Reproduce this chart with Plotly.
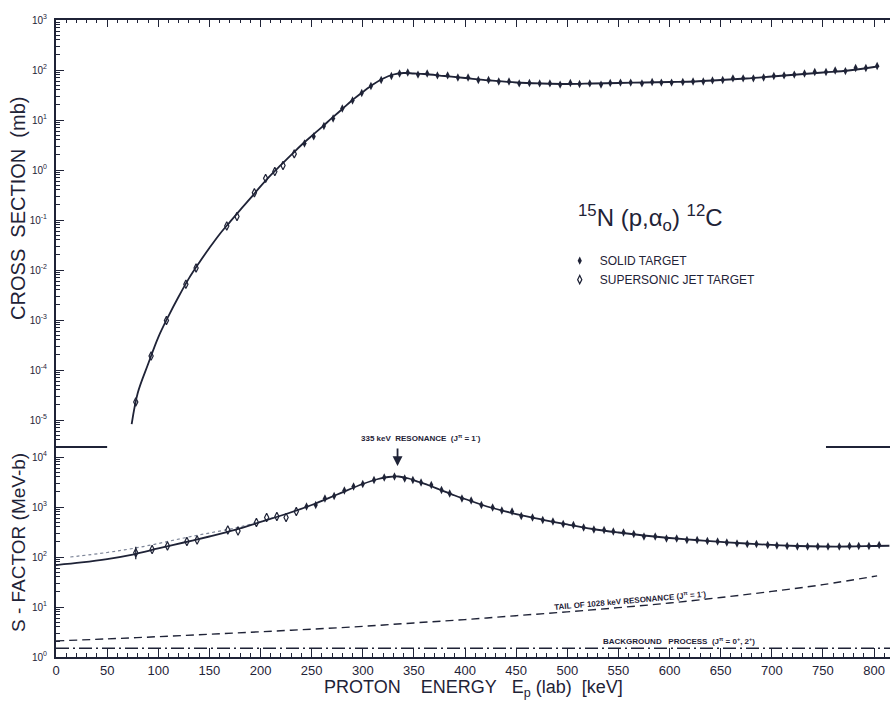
import plotly.graph_objects as go

INK = "#1f2337"
FONT = "Liberation Sans"

# ---------------- cross section, 15N(p,a0)12C ----------------
# supersonic jet target (low energies)
e_jet_cs = [78, 93, 108, 127, 137, 167, 177, 194, 205, 214, 222, 233]
cs_jet = [2.3e-5, 1.9e-4, 9.8e-4, 5.2e-3, 1.1e-2, 7.6e-2, 0.117, 0.35, 0.68, 0.93, 1.23, 2.1]

# solid target
e_solid_cs = [243, 252, 262, 271, 280, 290, 299, 308, 318, 328,
              336, 344, 354, 363, 373, 383, 393, 403, 413, 423,
              433, 443, 453, 463, 473, 483, 493, 503, 512, 522,
              533, 542, 552, 562, 573, 583, 592, 602, 613, 623,
              633, 642, 652, 662, 672, 682, 692, 702, 712, 722,
              732, 742, 753, 762, 772, 782, 792, 803]
cs_solid = [3.4, 4.7, 7.6, 10.7, 17, 24.5, 34.7, 47.9, 63, 76,
            85, 89, 81, 85, 78, 78, 71, 71, 63, 63,
            59, 59, 54, 55, 54, 54, 51, 55, 52.5, 54,
            51, 55, 56, 56, 54, 57.5, 56, 56, 57.5, 59,
            59, 62, 63, 68, 68, 68, 71, 76, 78, 81,
            85, 91, 91, 98, 95, 110, 110, 120]

# fitted cross section curve
e_fit_cs = [74, 80, 90, 100, 110, 120, 130, 140, 150, 160, 170, 180, 190, 200,
            210, 220, 230, 240, 250, 260, 270, 280, 290, 300, 310, 320, 330, 340,
            350, 360, 380, 400, 425, 450, 475, 500, 525, 550, 575, 600, 625, 650,
            675, 700, 725, 750, 775, 800, 805]
cs_fit = [8.3e-6, 3.5e-5, 1.3e-4, 4.5e-4, 1.2e-3, 2.95e-3, 6.8e-3, 1.4e-2, 2.75e-2,
          5.2e-2, 9.1e-2, 0.158, 0.27, 0.47, 0.79, 1.26, 2.0, 3.16, 4.8, 7.2, 11.0,
          16.6, 25.1, 36.3, 51.3, 67.6, 81.3, 87.1, 85.1, 83.2, 75.9, 69.2, 61.7,
          56.2, 53.7, 52.5, 53.7, 55.0, 56.2, 57.5, 58.9, 63.1, 67.6, 74.1, 81.3,
          89.1, 97.7, 114.8, 120]

# ---------------- astrophysical S-factor ----------------
e_jet_s = [78, 94, 109, 128, 138, 168, 178, 196, 206, 216, 225, 235]
s_jet = [122, 141, 166, 204, 219, 347, 330, 490, 617, 646, 617, 813]
s_jet_up = [38, 0, 0, 0, 0, 0, 0, 0, 0, 0, 0, 0]
s_jet_dn = [32, 0, 0, 0, 0, 0, 0, 0, 0, 0, 0, 0]

e_solid_s = [245, 254, 263, 272, 282, 291, 300, 311, 321, 331,
             341, 349, 357, 367, 377, 385, 397, 406, 416, 427,
             436, 446, 455, 466, 476, 486, 496, 506, 516, 526,
             536, 545, 555, 565, 575, 586, 597, 607, 617, 627,
             637, 647, 656, 666, 676, 685, 696, 705, 715, 725,
             735, 745, 755, 766, 776, 785, 795, 805]
s_solid = [1023, 1096, 1479, 1660, 2138, 2570, 2884, 3467, 3890, 4074,
           3715, 3467, 3090, 2754, 2188, 1862, 1479, 1349, 1096, 977,
           851, 813, 661, 617, 550, 513, 457, 437, 389, 355,
           347, 324, 309, 288, 257, 257, 234, 234, 219, 219,
           209, 204, 195, 186, 182, 182, 174, 170, 166, 162,
           162, 162, 162, 162, 166, 166, 166, 174]

# R-matrix fit of the S-factor
e_fit_s = [0, 25, 50, 75, 100, 125, 150, 175, 200, 225, 250, 275, 300, 315, 325,
           335, 345, 355, 365, 375, 390, 400, 425, 450, 475, 500, 525, 550, 575,
           600, 625, 650, 675, 700, 725, 750, 775, 800, 815]
s_fit = [69, 78, 91, 112, 148, 195, 257, 347, 501, 724, 1096, 1778, 2884, 3631,
         3981, 4074, 3715, 3162, 2692, 2239, 1698, 1445, 977, 724, 562, 447, 363,
         309, 269, 240, 219, 200, 186, 174, 166, 162, 162, 166, 168]

# alternative low-energy extrapolation (dotted)
e_alt_s = [14, 50, 75, 100, 125, 150, 175, 200, 215]
s_alt = [100, 123, 148, 186, 240, 302, 380, 513, 631]

# tail of the 1028 keV resonance
e_tail = [0, 50, 100, 150, 200, 250, 300, 350, 400, 450, 500, 550, 600, 650, 700, 750, 803]
s_tail = [2.1, 2.3, 2.55, 2.85, 3.2, 3.6, 4.1, 4.8, 5.6, 6.7, 8.0, 9.7, 12.0, 15.5, 20.5, 28, 42]

# non-resonant background process
e_bg = [0, 820]
s_bg = [1.5, 1.5]

# axis ticks
x_ticks = list(range(0, 801, 50))
cs_decades = [1e-5, 1e-4, 1e-3, 1e-2, 1e-1, 1, 10, 100, 1000]
cs_labels = ["10<sup>-5</sup>", "10<sup>-4</sup>", "10<sup>-3</sup>", "10<sup>-2</sup>",
             "10<sup>-1</sup>", "10<sup>0</sup>", "10<sup>1</sup>", "10<sup>2</sup>", "10<sup>3</sup>"]
s_decades = [1, 10, 100, 1000, 10000]
s_labels = ["10<sup>0</sup>", "10<sup>1</sup>", "10<sup>2</sup>", "10<sup>3</sup>", "10<sup>4</sup>"]

X_MAX = 815.6
SPLIT = 210 / 637  # fraction of the plot height taken by the S-factor panel

fig = go.Figure()

# ---- upper panel: cross section ----
fig.add_trace(go.Scatter(x=e_fit_cs, y=cs_fit, mode="lines", line_shape="spline",
                         line=dict(color=INK, width=1.8), xaxis="x", yaxis="y",
                         showlegend=False, hoverinfo="skip"))
fig.add_trace(go.Scatter(x=e_solid_cs, y=cs_solid, mode="markers", name="SOLID TARGET",
                         marker=dict(symbol="diamond-tall", size=6, color=INK),
                         xaxis="x", yaxis="y"))
fig.add_trace(go.Scatter(x=e_jet_cs, y=cs_jet, mode="markers", name="SUPERSONIC JET TARGET",
                         marker=dict(symbol="diamond-tall-open", size=6, color=INK,
                                     line=dict(width=1.2, color=INK)),
                         xaxis="x", yaxis="y"))

# ---- lower panel: S-factor ----
fig.add_trace(go.Scatter(x=e_bg, y=s_bg, mode="lines",
                         line=dict(color=INK, width=1.4, dash="13px,4px,2px,4px"),
                         xaxis="x2", yaxis="y2", showlegend=False, hoverinfo="skip"))
fig.add_trace(go.Scatter(x=e_tail, y=s_tail, mode="lines", line_shape="spline",
                         line=dict(color=INK, width=1.4, dash="8px,5px"),
                         xaxis="x2", yaxis="y2", showlegend=False, hoverinfo="skip"))
fig.add_trace(go.Scatter(x=e_alt_s, y=s_alt, mode="lines", line_shape="spline",
                         line=dict(color="#7d8598", width=1.2, dash="dot"),
                         xaxis="x2", yaxis="y2", showlegend=False, hoverinfo="skip"))
fig.add_trace(go.Scatter(x=e_fit_s, y=s_fit, mode="lines", line_shape="spline",
                         line=dict(color=INK, width=1.8), xaxis="x2", yaxis="y2",
                         showlegend=False, hoverinfo="skip"))
fig.add_trace(go.Scatter(x=e_solid_s, y=s_solid, mode="markers",
                         marker=dict(symbol="diamond-tall", size=6, color=INK),
                         xaxis="x2", yaxis="y2", showlegend=False))
fig.add_trace(go.Scatter(x=e_jet_s, y=s_jet, mode="markers",
                         marker=dict(symbol="diamond-tall-open", size=6, color=INK,
                                     line=dict(width=1.2, color=INK)),
                         error_y=dict(type="data", symmetric=False, array=s_jet_up,
                                      arrayminus=s_jet_dn, width=0, thickness=1.3, color=INK),
                         xaxis="x2", yaxis="y2", showlegend=False))

minor_log = lambda lo, hi: [m * 10 ** k for k in range(lo, hi) for m in range(2, 10)]

axis_common = dict(showline=True, linewidth=2, linecolor=INK, ticks="inside",
                   tickcolor=INK, showgrid=False, zeroline=False, mirror=False)

fig.update_layout(
    width=890, height=701,
    margin=dict(l=56, r=0, t=20, b=44),
    paper_bgcolor="white", plot_bgcolor="white",
    font=dict(family=FONT, color=INK),
    xaxis=dict(domain=[0, 1], anchor="y", side="top", range=[0, X_MAX],
               tickvals=x_ticks, ticklen=7, tickwidth=1.2, showticklabels=False,
               minor=dict(ticks="inside", tickvals=list(range(0, 816, 10)), ticklen=3,
                          tickcolor=INK, showgrid=False),
               **axis_common),
    yaxis=dict(domain=[SPLIT, 1], anchor="x", type="log", range=[-5.54, 3],
               tickvals=cs_decades, ticktext=cs_labels, ticklen=8, tickwidth=1.2,
               tickfont=dict(size=10), ticklabelstandoff=5,
               minor=dict(ticks="inside", tickvals=minor_log(-6, 3), ticklen=4,
                          tickcolor=INK, showgrid=False),
               **axis_common),
    xaxis2=dict(domain=[0, 1], anchor="y2", side="bottom", range=[0, X_MAX],
                tickvals=x_ticks, ticktext=[str(v) for v in x_ticks], ticklen=9,
                tickwidth=1.2, tickfont=dict(size=13),
                minor=dict(ticks="inside", tickvals=list(range(0, 816, 10)), ticklen=4,
                           tickcolor=INK, showgrid=False),
                **axis_common),
    yaxis2=dict(domain=[0, SPLIT], anchor="x2", type="log", range=[0, 4.2],
                tickvals=s_decades, ticktext=s_labels, ticklen=8, tickwidth=1.2,
                tickfont=dict(size=10), ticklabelstandoff=5,
                minor=dict(ticks="inside", tickvals=minor_log(0, 5), ticklen=4,
                           tickcolor=INK, showgrid=False),
                **axis_common),
    legend=dict(x=0.604, y=0.645, xanchor="left", yanchor="top",
                bgcolor="rgba(0,0,0,0)", font=dict(size=12, family=FONT, color=INK),
                itemwidth=30),
    showlegend=True,
)

# partial frame segments between the two panels
for x0, x1 in [(0, 50), (753, X_MAX)]:
    fig.add_shape(type="line", xref="x", yref="paper", x0=x0, x1=x1, y0=SPLIT, y1=SPLIT,
                  line=dict(color=INK, width=2))

NB = "\u00a0"
centered = dict(xanchor="center", yanchor="middle", showarrow=False)
annotations = [
    dict(text="<sup>15</sup>N" + NB + "(p,α<sub>o</sub>)" + NB + "<sup>12</sup>C",
         xref="paper", yref="paper", x=0.7134, y=0.689,
         font=dict(size=24, family=FONT, color=INK), **centered),
    dict(text="CROSS" + NB * 2 + "SECTION" + NB * 2 + "(mb)", xref="paper", yref="paper",
         x=-0.0456, y=0.705, textangle=-90,
         font=dict(size=20, family=FONT, color=INK), **centered),
    dict(text="S" + NB + "-" + NB + "FACTOR" + NB + "(MeV-b)", xref="paper", yref="paper",
         x=-0.0456, y=0.1805, textangle=-90,
         font=dict(size=19, family=FONT, color=INK), **centered),
    dict(text="PROTON" + NB * 4 + "ENERGY" + NB * 3 + "E<sub>p</sub>" + NB + "(lab)" + NB * 2 + "[keV]",
         xref="paper", yref="paper", x=0.501, y=-0.0487,
         font=dict(size=18, family=FONT, color=INK), **centered),
    dict(text="<b>335 keV" + NB * 2 + "RESONANCE" + NB * 2 + "(J<sup>π</sup> = 1<sup>-</sup>)</b>",
         xref="x2", yref="paper", x=357, y=0.3438,
         font=dict(size=8, family=FONT, color=INK), **centered),
    dict(text="", xref="x2", yref="paper", x=334, y=0.2998, ax=0, ay=-19,
         showarrow=True, arrowhead=2, arrowsize=1.1, arrowwidth=1.8, arrowcolor=INK),
    dict(text="<b>TAIL" + NB + "OF" + NB + "1028 keV" + NB + "RESONANCE" + NB + "(J<sup>π</sup> = 1<sup>-</sup>)</b>",
         xref="x2", yref="y2", x=561, y=1.14, textangle=-5,
         font=dict(size=8, family=FONT, color=INK), **centered),
    dict(text="<b>BACKGROUND" + NB * 3 + "PROCESS" + NB * 2 + "(J<sup>π</sup> = 0<sup>+</sup>, 2<sup>+</sup>)</b>",
         xref="x2", yref="y2", x=609, y=0.32,
         font=dict(size=8, family=FONT, color=INK), **centered),
]
fig.update_layout(annotations=annotations)

fig.write_html("out.html")
